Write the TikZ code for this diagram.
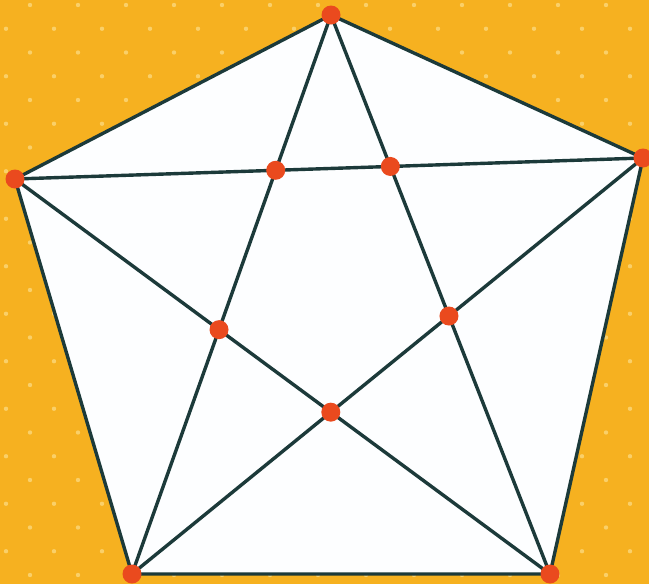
\documentclass[tikz,border=0pt]{standalone}
\definecolor{bgorange}{RGB}{246,177,32}
\definecolor{bgdot}{RGB}{250,208,105}
\definecolor{edgecol}{RGB}{28,58,58}
\definecolor{vertcol}{RGB}{234,74,30}
\definecolor{facecol}{RGB}{253,254,255}
\tikzset{
  edge/.style={draw=edgecol,line width=3.4pt,line join=round},
  vert/.style={circle,fill=vertcol,inner sep=0pt,minimum size=19pt}
}
\begin{document}
\begin{tikzpicture}[x=1pt,y=-1pt]
\useasboundingbox (0,0) rectangle (649,584);
\clip (0,0) rectangle (649,584);
\fill[bgorange] (0,0) rectangle (649,584);
% background dot pattern
\foreach \k in {0,...,24}{
  \pgfmathsetmacro{\yy}{5+23.75*\k}
  \pgfmathsetmacro{\xo}{mod(\k,2)==0 ? 30 : 6}
  \foreach \i in {0,...,13}{
    \fill[bgdot] (\xo+48*\i,\yy) circle (2.2);
  }
}
% outer vertices
\coordinate (A) at (331,15);
\coordinate (B) at (643,158);
\coordinate (C) at (550,574);
\coordinate (D) at (132,574);
\coordinate (E) at (15,179);
% inner intersections
\coordinate (P1) at (intersection of A--D and E--B);
\coordinate (P2) at (intersection of A--C and E--B);
\coordinate (P3) at (intersection of A--C and B--D);
\coordinate (P4) at (intersection of E--C and B--D);
\coordinate (P5) at (intersection of A--D and E--C);
\fill[facecol] (A) -- (B) -- (C) -- (D) -- (E) -- cycle;
% star lines
\draw[edge] (A) -- (P1) -- (P5) -- (D);
\draw[edge] (A) -- (P2) -- (P3) -- (C);
\draw[edge] (E) -- (P1) -- (P2) -- (B);
\draw[edge] (E) -- (P5) -- (P4) -- (C);
\draw[edge] (B) -- (P3) -- (P4) -- (D);
% pentagon
\draw[edge] (A) -- (B) -- (C) -- (D) -- (E) -- cycle;
% vertices
\foreach \p in {A,B,C,D,E,P1,P2,P3,P4,P5}{
  \node[vert] (n\p) at (\p) {};
}
\end{tikzpicture}
\end{document}
